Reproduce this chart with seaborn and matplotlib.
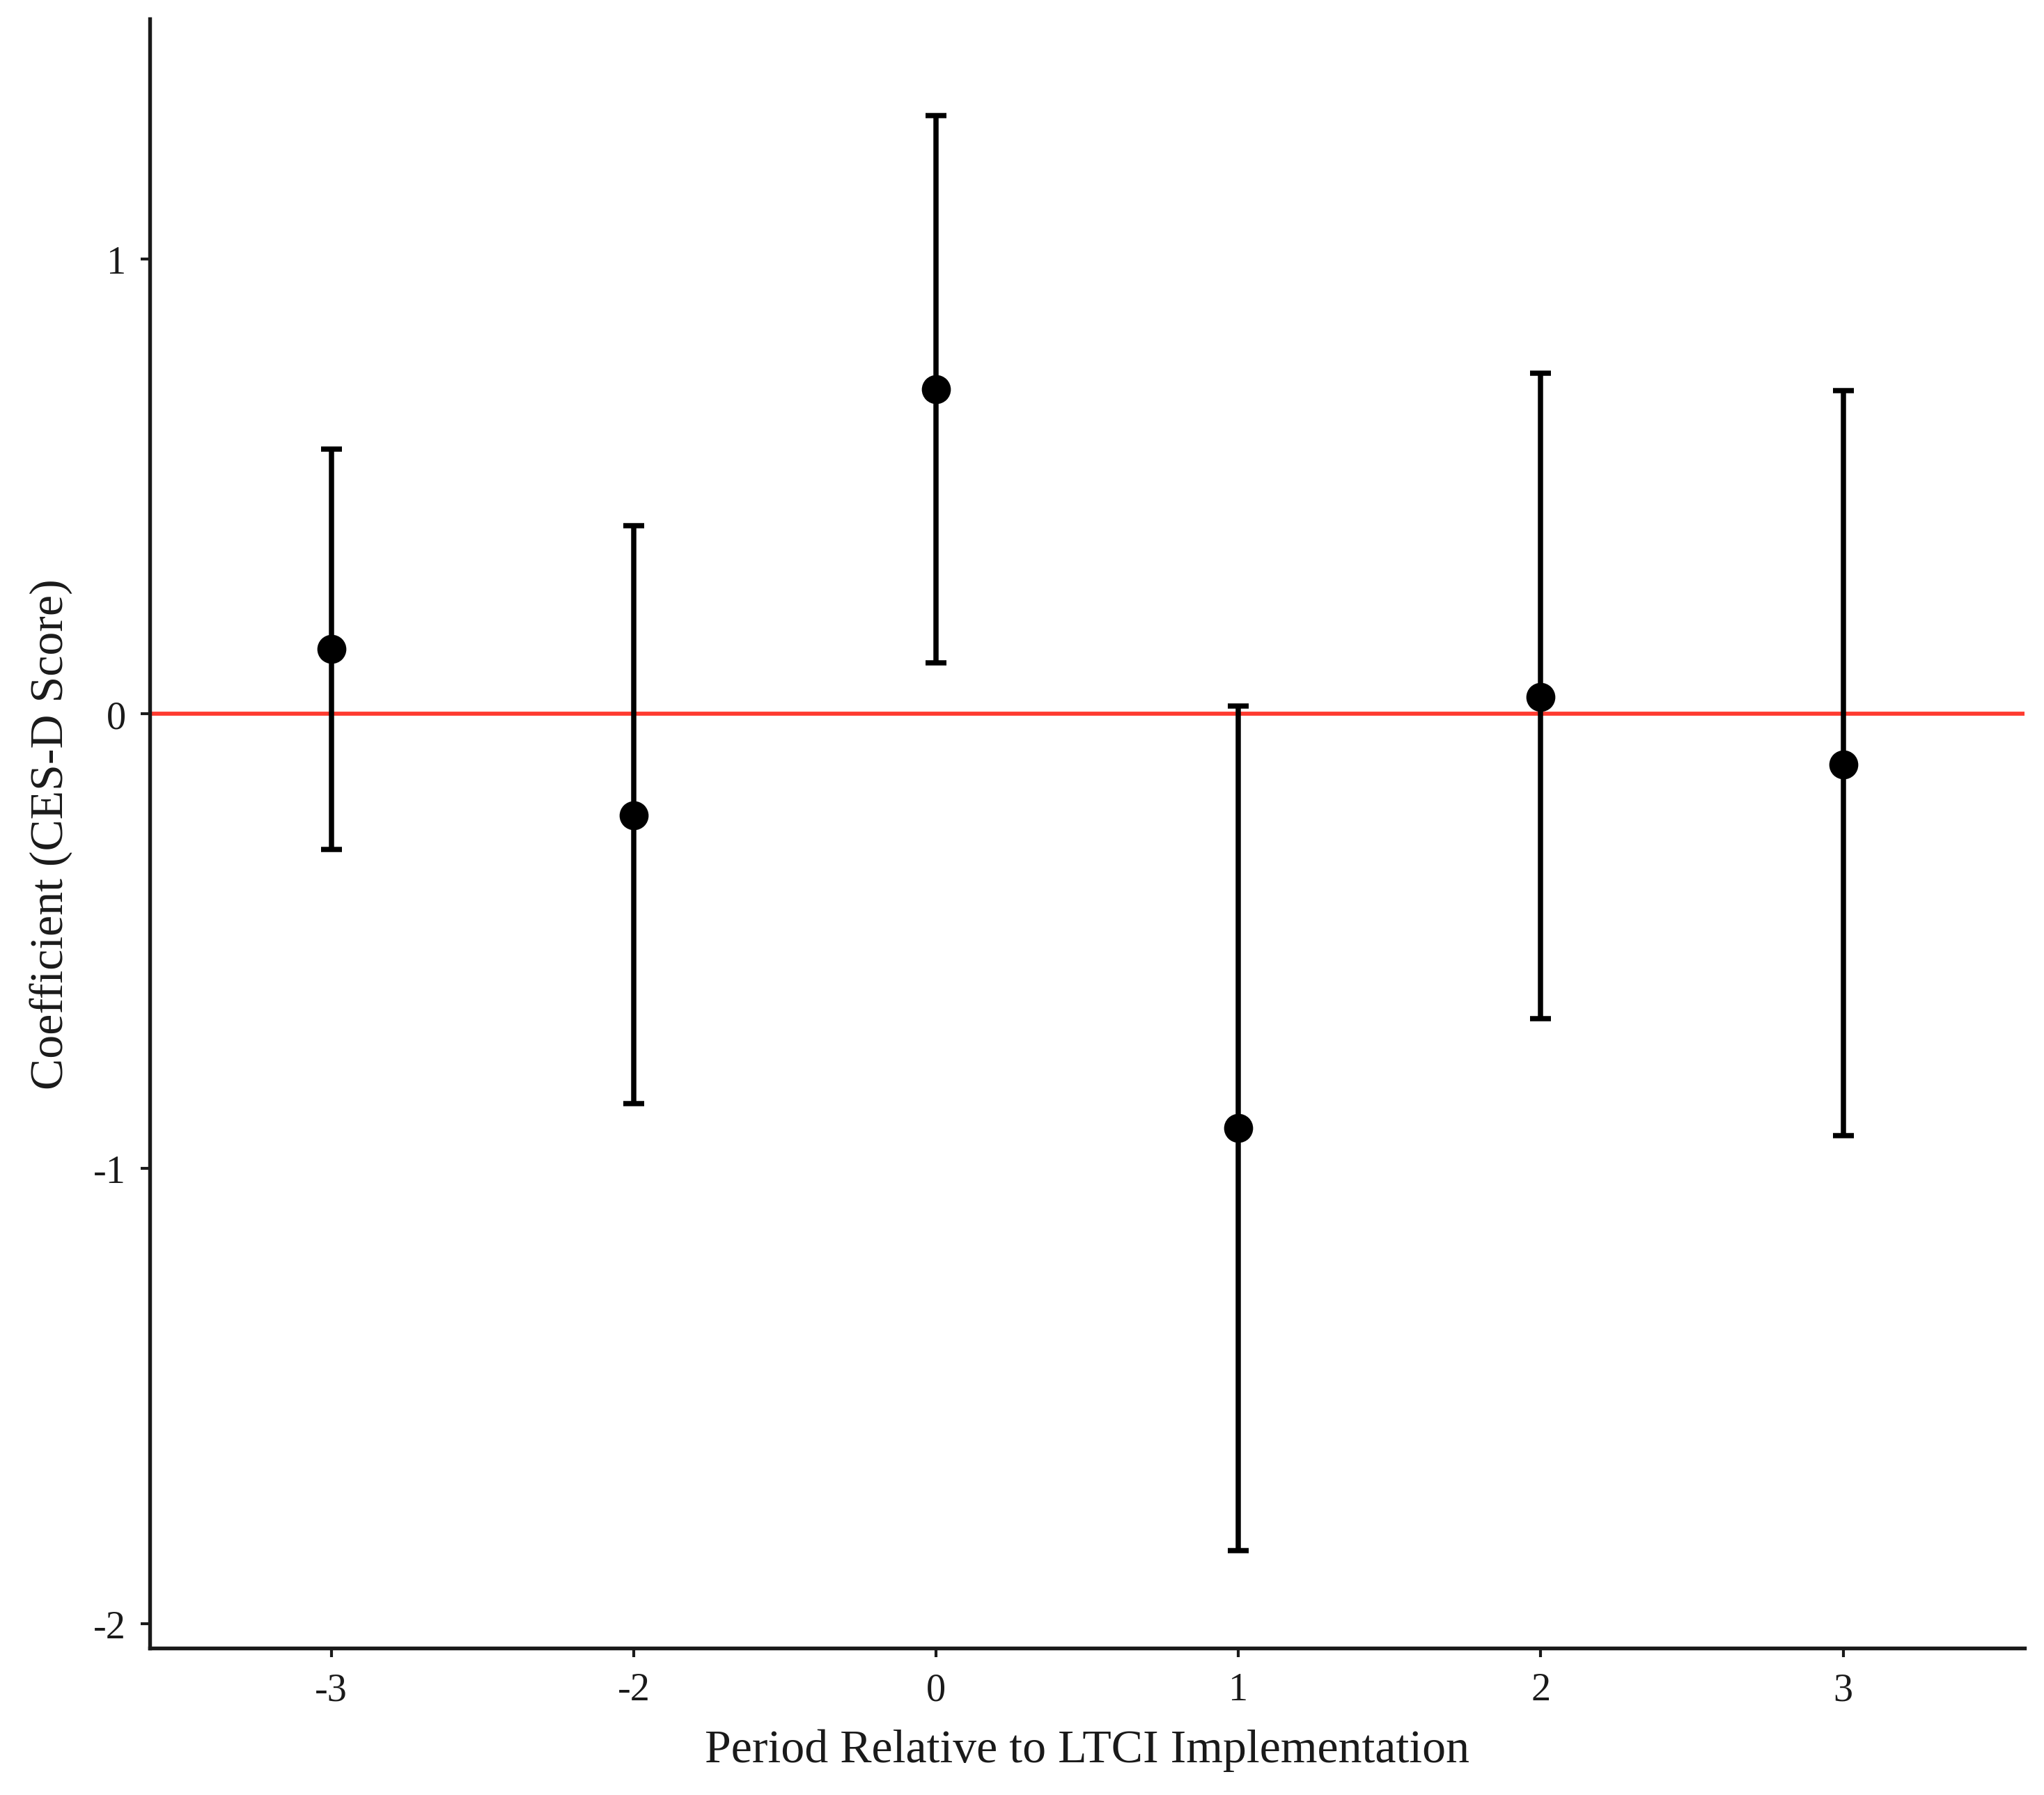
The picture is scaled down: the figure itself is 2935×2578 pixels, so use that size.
import numpy as np
import pandas as pd
import matplotlib
matplotlib.use("Agg")
import matplotlib.pyplot as plt
import seaborn as sns

# -------------------------
# Data
# -------------------------
periods = ["-3", "-2", "0", "1", "2", "3"]
coef = [0.143, -0.223, 0.713, -0.911, 0.037, -0.112]
ci_low = [-0.298, -0.857, 0.112, -1.840, -0.670, -0.928]
ci_high = [0.582, 0.413, 1.315, 0.017, 0.748, 0.711]
y_ticks = [-2, -1, 0, 1]

df = pd.DataFrame({"period": periods, "coef": coef, "low": ci_low, "high": ci_high})

# -------------------------
# Style
# -------------------------
sns.set_theme(style="ticks")
plt.rcParams["font.family"] = ["Liberation Serif", "DejaVu Serif"]
plt.rcParams["axes.unicode_minus"] = False

fig = plt.figure(figsize=(2935 / 300, 2579 / 300), dpi=300)
ax = fig.add_axes([0.0733, 0.0818, 0.9172, 0.9072])

ax.axhline(0, color="#ff3b30", linewidth=1.4, zorder=1)

x_pos = np.arange(len(df))
ax.errorbar(
    x_pos, df["coef"],
    yerr=[df["coef"] - df["low"], df["high"] - df["coef"]],
    fmt="none", ecolor="black", elinewidth=1.8, capsize=3.6, capthick=1.8, zorder=2,
)
sns.scatterplot(data=df, x="period", y="coef", color="black", s=100,
                edgecolor="black", linewidth=0, ax=ax, zorder=3)

ax.set_xlim(-0.6, len(df) - 1 + 0.6)
ax.set_ylim(-2.054, 1.527)
ax.set_yticks(y_ticks)
ax.set_yticklabels([str(t) for t in y_ticks])

ax.set_xlabel("Period Relative to LTCI Implementation", fontsize=16.3, color="#1a1a1a", labelpad=7)
ax.set_ylabel("Coefficient (CES-D Score)", fontsize=16.3, color="#1a1a1a", labelpad=7)
ax.tick_params(axis="both", labelsize=13.5, length=3.2, width=1.0, color="#1a1a1a", labelcolor="#1a1a1a", pad=5)

sns.despine(ax=ax)
for side in ["left", "bottom"]:
    ax.spines[side].set_linewidth(1.3)
    ax.spines[side].set_color("#1a1a1a")

fig.savefig("out.png", dpi=300, facecolor="white")
